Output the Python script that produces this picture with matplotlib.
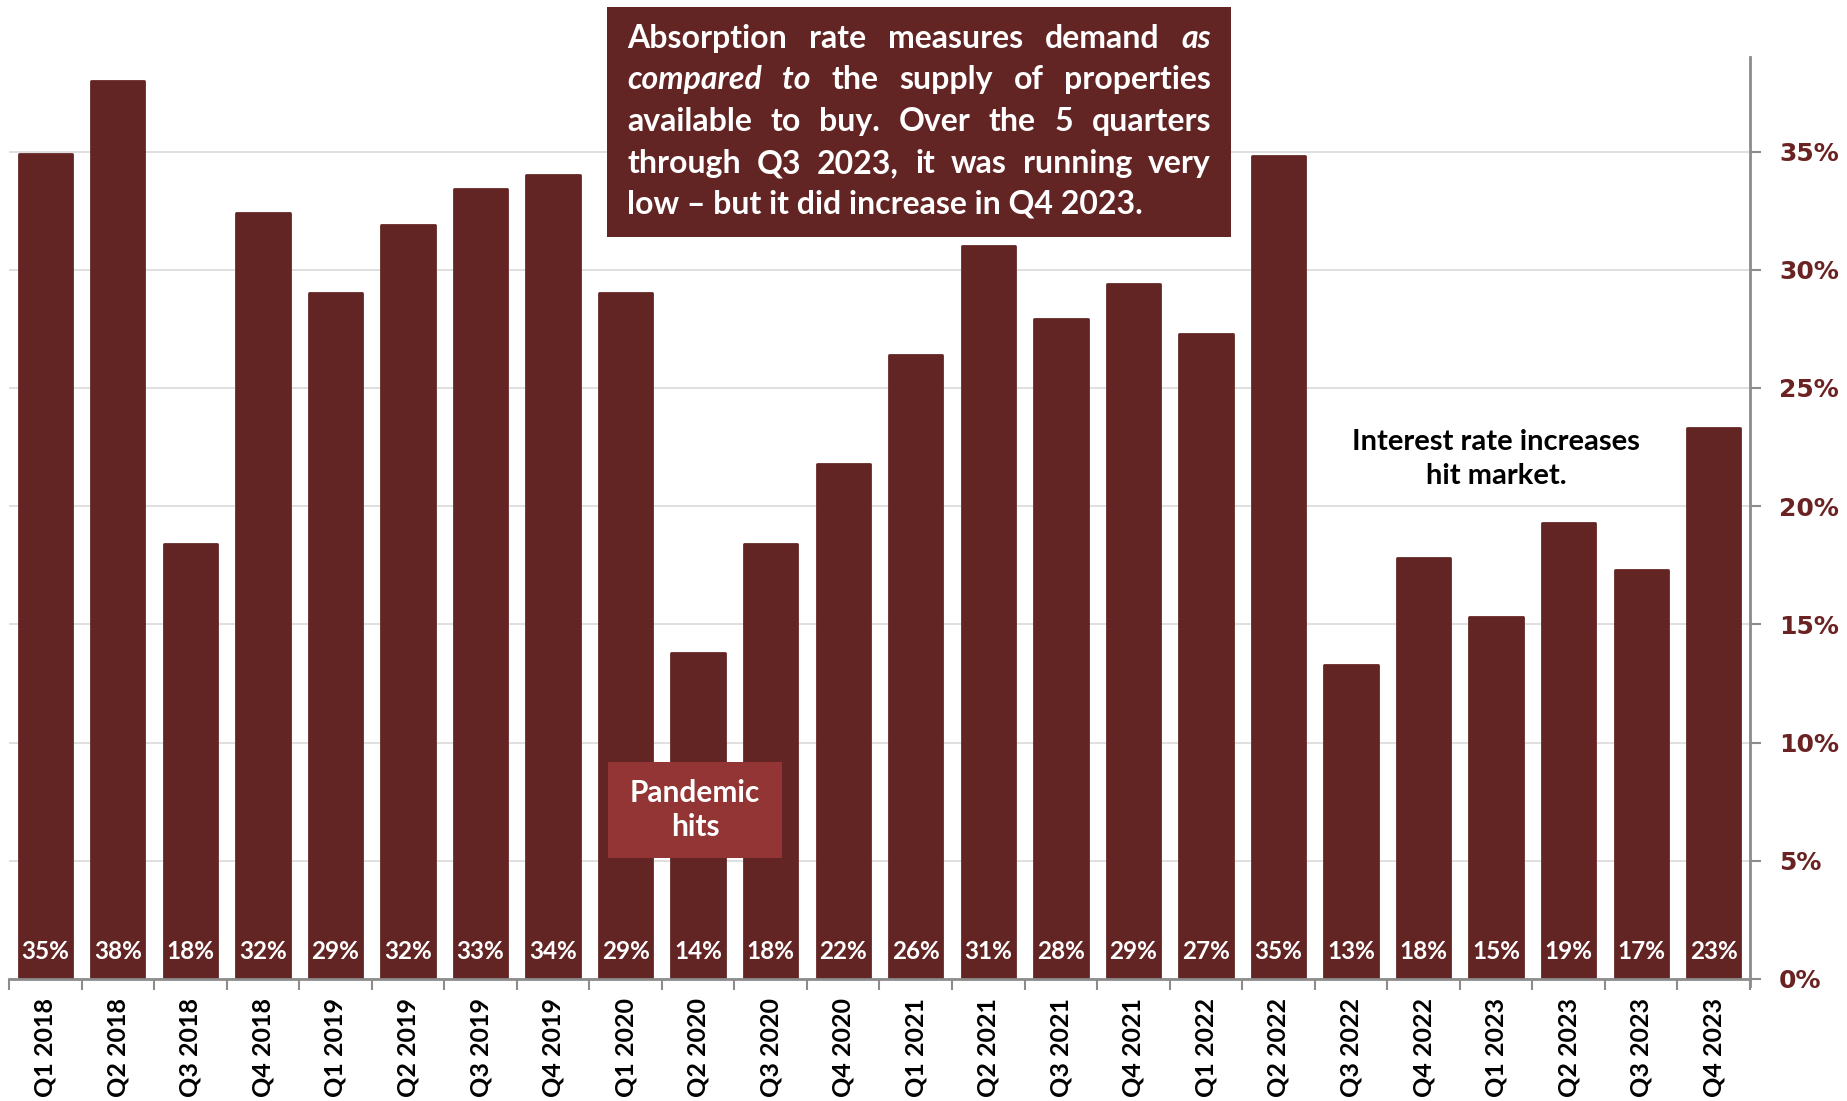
import matplotlib

matplotlib.use("Agg")
import matplotlib.pyplot as plt
from matplotlib.patches import Rectangle
from matplotlib.ticker import FixedLocator, FuncFormatter
import numpy as np

quarters = [
    "Q1 2018", "Q2 2018", "Q3 2018", "Q4 2018",
    "Q1 2019", "Q2 2019", "Q3 2019", "Q4 2019",
    "Q1 2020", "Q2 2020", "Q3 2020", "Q4 2020",
    "Q1 2021", "Q2 2021", "Q3 2021", "Q4 2021",
    "Q1 2022", "Q2 2022", "Q3 2022", "Q4 2022",
    "Q1 2023", "Q2 2023", "Q3 2023", "Q4 2023",
]
absorption = [
    34.9, 38.0, 18.4, 32.4,
    29.0, 31.9, 33.4, 34.0,
    29.0, 13.8, 18.4, 21.8,
    26.4, 31.0, 27.9, 29.4,
    27.3, 34.8, 13.3, 17.8,
    15.3, 19.3, 17.3, 23.3,
]
y_ticks = [0, 5, 10, 15, 20, 25, 30, 35]

note_lines = [
    [("Absorption", "normal"), ("rate", "normal"), ("measures", "normal"),
     ("demand", "normal"), ("as", "italic")],
    [("compared", "italic"), ("to", "italic"), ("the", "normal"), ("supply", "normal"),
     ("of", "normal"), ("properties", "normal")],
    [("available", "normal"), ("to", "normal"), ("buy.", "normal"), ("Over", "normal"),
     ("the", "normal"), ("5", "normal"), ("quarters", "normal")],
    [("through", "normal"), ("Q3", "normal"), ("2023,", "normal"), ("it", "normal"),
     ("was", "normal"), ("running", "normal"), ("very", "normal")],
]
note_last = "low \u2013 but it did increase in Q4 2023."

BAR = "#632424"
BOX2 = "#943535"
TICKCOL = "#6B2222"
GRAY = "#8c8c8c"
FONT = "Lato"

W, H = 1847, 1101
fig = plt.figure(figsize=(W / 100, H / 100), dpi=100)
ax = fig.add_axes([9 / W, 122 / H, (1750 - 9) / W, (1044 - 122) / H])

x = np.arange(len(quarters))
ax.bar(x, absorption, width=0.735, color=BAR, edgecolor=BAR, linewidth=2,
       joinstyle="round", zorder=2)
for xi, v in zip(x, absorption):
    ax.text(xi, 1.15, f"{round(v)}%", ha="center", va="center", color="white",
            fontsize=17.5, fontweight="bold", family=FONT, zorder=3)

ax.set_xlim(-0.5, len(quarters) - 0.5)
ax.set_ylim(0, 39)

# y axis on the right
ax.yaxis.tick_right()
ax.set_yticks(y_ticks)
ax.yaxis.set_major_formatter(FuncFormatter(lambda v, p: f"{v:.0f}%"))
ax.tick_params(axis="y", length=8, width=1.5, color=GRAY, pad=13,
               labelsize=18, labelcolor=TICKCOL)
for lab in ax.get_yticklabels():
    lab.set_fontweight("bold")
    lab.set_family("DejaVu Sans")
ax.grid(axis="y", color="#d9d9d9", linewidth=1.2, zorder=0)
ax.set_axisbelow(True)

# x axis: labels at centres, ticks at boundaries
ax.set_xticks(x)
ax.set_xticklabels(quarters, rotation=90, fontsize=18, fontweight="bold", family=FONT)
ax.xaxis.set_minor_locator(FixedLocator(np.arange(-0.5, len(quarters), 1)))
ax.tick_params(axis="x", which="major", length=0, pad=14)
ax.tick_params(axis="x", which="minor", length=8, width=1.5, color=GRAY)

for s in ["left", "top"]:
    ax.spines[s].set_visible(False)
ax.spines["right"].set_color(GRAY)
ax.spines["right"].set_linewidth(2)
ax.spines["right"].set_bounds(-0.3, 39)
ax.spines["bottom"].set_color(GRAY)
ax.spines["bottom"].set_linewidth(2)

# Pandemic box
ax.add_patch(Rectangle((8.96 - 1.2, 5.1), 2.4, 4.1, facecolor=BOX2, edgecolor="none", zorder=4))
ax.text(8.96, 7.15, "Pandemic\nhits", ha="center", va="center", color="white",
        fontsize=21.5, fontweight="bold", family=FONT, linespacing=1.3, zorder=5)

# Interest rate note
ax.text(20, 22.0, "Interest rate increases\nhit market.", ha="center", va="center",
        color="black", fontsize=21, fontweight="bold", family=FONT, linespacing=1.35,
        zorder=5)

# Top note box (figure pixel coordinates)
bx0, by0, bx1, by1 = 607, 7, 1231, 237
fig.patches.append(Rectangle((bx0 / W, 1 - by1 / H), (bx1 - bx0) / W, (by1 - by0) / H,
                             transform=fig.transFigure, facecolor=BAR, edgecolor="none",
                             zorder=10))
tx0, tx1 = 627, 1211
baselines = [48, 89, 131, 173, 214]
fsize = 23
renderer = fig.canvas.get_renderer()
for words, yb in zip(note_lines, baselines):
    texts = [fig.text(0, 1 - yb / H, w, fontsize=fsize, fontweight="bold", style=st,
                      family=FONT, color="white", va="baseline", zorder=11)
             for w, st in words]
    widths = [t.get_window_extent(renderer).width for t in texts]
    gap = (tx1 - tx0 - sum(widths)) / (len(texts) - 1)
    xp = tx0
    for t, wd in zip(texts, widths):
        t.set_x(xp / W)
        xp += wd + gap
fig.text(tx0 / W, 1 - baselines[-1] / H, note_last, fontsize=fsize, fontweight="bold",
         family=FONT, color="white", va="baseline", zorder=11)

fig.savefig("out.png", dpi=100, facecolor="white")
